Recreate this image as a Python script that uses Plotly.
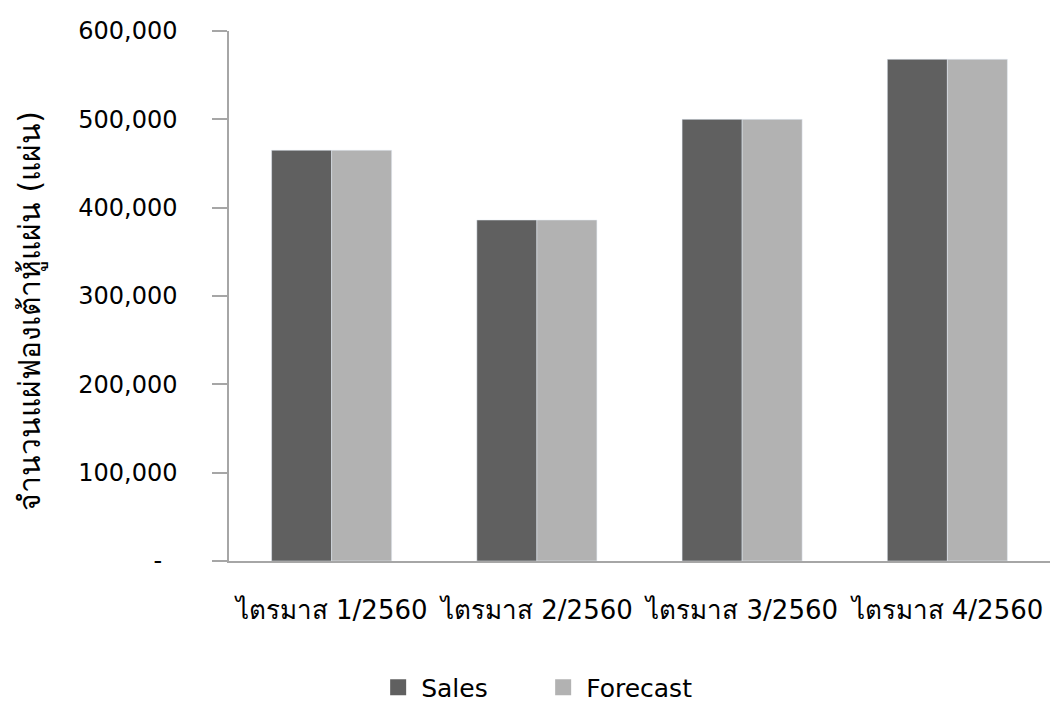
import plotly.graph_objects as go

# Quarterly tofu-skin sheet volumes
quarters = ["ไตรมาส 1/2560", "ไตรมาส 2/2560", "ไตรมาส 3/2560", "ไตรมาส 4/2560"]
sales = [465000, 386000, 500000, 568000]
forecast = [465000, 386000, 500000, 568000]

y_ticks = [0, 100000, 200000, 300000, 400000, 500000, 600000]
y_tick_text = ["-\u00a0\u00a0", "100,000", "200,000", "300,000", "400,000", "500,000", "600,000"]

FONT = "DejaVu Sans, Noto Sans, sans-serif"
SALES_COLOR = "#606060"
FORECAST_COLOR = "#B2B2B2"

fig = go.Figure()
fig.add_trace(go.Bar(name="Sales", x=quarters, y=sales, marker_color=SALES_COLOR, showlegend=False))
fig.add_trace(go.Bar(name="Forecast", x=quarters, y=forecast, marker_color=FORECAST_COLOR, showlegend=False))

# Legend entries with larger square swatches
for name, color in [("Sales", SALES_COLOR), ("Forecast", FORECAST_COLOR)]:
    fig.add_trace(go.Scatter(
        x=[None], y=[None], mode="markers", name=name,
        marker=dict(symbol="square", size=20, color=color),
    ))

fig.update_layout(
    width=1060,
    height=703,
    margin=dict(l=229, r=10, t=31, b=142),
    paper_bgcolor="white",
    plot_bgcolor="white",
    barmode="group",
    bargap=0.415,
    bargroupgap=0,
    font=dict(family=FONT, size=24, color="#000000"),
    showlegend=True,
    legend=dict(
        orientation="h",
        x=0.379,
        xanchor="center",
        yref="container",
        y=0.022,
        yanchor="middle",
        font=dict(size=25),
        itemwidth=36,
        entrywidth=114,
        entrywidthmode="pixels",
        tracegroupgap=0,
    ),
    xaxis=dict(
        automargin=False,
        showline=True,
        linecolor="#A6A6A6",
        linewidth=1.5,
        ticks="",
        tickfont=dict(size=26),
        ticklabelstandoff=25,
    ),
    yaxis=dict(
        automargin=False,
        range=[0, 600000],
        tickvals=y_ticks,
        ticktext=y_tick_text,
        showgrid=False,
        zeroline=False,
        showline=True,
        linecolor="#A6A6A6",
        linewidth=1.5,
        ticks="outside",
        ticklen=15,
        tickcolor="#A6A6A6",
        tickwidth=1.5,
        tickfont=dict(size=24),
        ticklabelstandoff=30,
    ),
    annotations=[
        dict(
            text="จำนวนแผ่ฟองเต้าหู้แผ่น (แผ่น)",
            xref="paper",
            yref="paper",
            x=0,
            y=0.5,
            xshift=-199,
            yshift=-15,
            xanchor="center",
            yanchor="middle",
            textangle=-90,
            showarrow=False,
            font=dict(size=30, family=FONT),
        )
    ],
)

fig.write_html("out.html")
